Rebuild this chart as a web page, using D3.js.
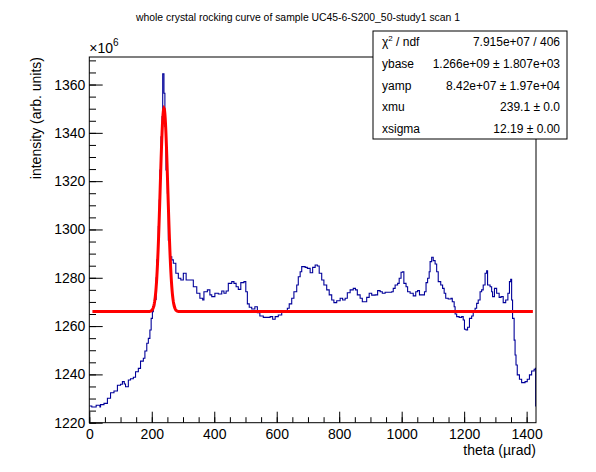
<!DOCTYPE html>
<html><head><meta charset="utf-8">
<script src="https://cdn.jsdelivr.net/npm/d3@7"></script>
<style>
body{margin:0;background:#fff}
text{font-family:"Liberation Sans",Arial,Helvetica,sans-serif;fill:#000}
</style>
</head><body>
<svg id="c" width="596" height="472"></svg>
<script>
// ---- data (intensity in units of 1e6, theta in µrad) ----
const theta = [0,8,15,22,28,34,36,47,58,68,79,90,100,106,112,116,125,132,141,148,157,164,173,178,184,189,194,198,202,205,209,214,216,221,224,226,229.5,233,235,239,242,245.5,250,253,258,264,269,277,285,293,301,310,322,333,344,354,363,367,378,386,392,402,413,424,431,438,445,456,463,470,477,485,495,501,506,512,520,530,538,546,557,568,579,587,595,605,616,627,634,640,648,655,664,669,675,680,691,698,707,715,723,730,736,744,751,760,768,776,783,792,803,811,819,826,835,845,852,858,867,874,880,888,896,904,915,923,931,938,947,957,968,973,979,987,992,998,1003,1007,1014,1019,1027,1037,1045,1051,1057,1064,1073,1078,1083,1088,1091,1096,1101,1107,1112,1117,1125,1131,1136,1141,1149,1158,1162,1168,1171,1176,1184,1192,1197,1201,1206,1211,1217,1224,1229,1235,1240,1245,1251,1256,1261,1267,1272,1275,1283,1288,1291,1297,1304,1312,1318,1325,1333,1340,1345,1349,1352,1355,1360,1363,1366,1370,1377,1384,1395,1402,1409,1416,1424,1428,1429];
const intensity = [1226.9,1226.5,1226.5,1227.2,1227.2,1226.5,1227.5,1228.0,1230.1,1232.4,1233.1,1235.5,1235.9,1237.0,1236.0,1234.9,1237.7,1238.2,1238.8,1241.1,1242.5,1245.5,1246.7,1249.7,1252.9,1254.9,1258.4,1263.2,1266.0,1268.3,1271.0,1280.0,1287.4,1301.2,1312.2,1324.6,1338.4,1346.7,1364.4,1356.4,1342.6,1324.6,1315.0,1295.6,1288.7,1287.4,1286.0,1281.9,1279.8,1279.1,1281.9,1279.1,1279.1,1276.3,1273.6,1271.5,1270.8,1274.2,1275.0,1272.9,1272.2,1273.6,1273.3,1274.5,1273.6,1274.5,1277.7,1278.4,1277.7,1276.3,1275.2,1278.0,1278.4,1274.2,1269.2,1267.8,1267.1,1268.0,1265.5,1264.2,1263.6,1263.6,1263.9,1262.8,1263.9,1264.6,1266.0,1266.0,1267.4,1269.2,1271.5,1274.2,1277.0,1280.4,1282.5,1284.6,1284.3,1283.9,1282.1,1284.3,1285.3,1284.9,1281.9,1279.1,1277.0,1275.0,1272.9,1270.8,1269.7,1270.5,1271.5,1270.8,1271.5,1273.8,1275.0,1275.6,1275.0,1272.9,1271.5,1270.1,1270.1,1271.9,1273.6,1272.8,1272.9,1274.7,1274.2,1273.6,1274.0,1274.0,1274.2,1275.6,1277.0,1277.7,1279.8,1282.3,1282.5,1277.7,1276.3,1274.2,1273.6,1272.5,1274.2,1274.7,1272.9,1272.9,1274.2,1278.0,1279.8,1282.5,1286.7,1288.5,1287.1,1285.7,1282.5,1278.4,1277.0,1275.6,1273.6,1271.5,1271.2,1271.5,1270.1,1268.0,1265.0,1263.9,1263.6,1263.9,1262.5,1258.7,1258.4,1259.5,1263.2,1264.2,1266.0,1267.4,1269.4,1270.8,1274.2,1275.0,1277.0,1281.9,1282.9,1277.0,1276.3,1274.2,1272.2,1275.6,1273.6,1271.9,1272.2,1269.7,1270.8,1273.6,1278.4,1279.4,1270.8,1263.2,1254.2,1248.0,1243.9,1239.8,1238.0,1236.6,1237.0,1238.0,1239.8,1241.4,1242.1,1242.5,1226.9];
const thetaMax = 1430;

// fit result (gaussian + constant), values as shown in the stats box
const fitNames  = ["ybase","yamp","xmu","xsigma"];
const fitValues = [1266.0, 84.2, 239.1, 12.19];   // ybase, yamp in 1e6
const fitRange  = [10, 1420];

const statLabels = ["χ2 / ndf","ybase","yamp","xmu","xsigma"];
const statTexts  = ["7.915e+07 / 406","1.266e+09 ± 1.807e+03","8.42e+07 ± 1.97e+04","239.1 ± 0.0","12.19 ± 0.00"];

const xTicks = [0,200,400,600,800,1000,1200,1400];
const yTicks = [1220,1240,1260,1280,1300,1320,1340,1360];

const titleText = "whole crystal rocking curve of sample UC45-6-S200_50-study1 scan 1";
const xTitle = "theta (µrad)";
const yTitle = "intensity (arb. units)";

// ---- layout ----
const L = 89.3, R = 536, T = 57, B = 422.7;
const svg = d3.select("#c");
svg.append("rect").attr("width",596).attr("height",472).attr("fill","#fff");

const x = d3.scaleLinear().domain([0, thetaMax]).range([L, R]);
const y = d3.scaleLinear().domain([1220, 1371.4]).range([B, T]);

svg.append("defs").append("clipPath").attr("id","clip")
  .append("rect").attr("x",L).attr("y",T).attr("width",R-L).attr("height",B-T);

// histogram
const pts = theta.map((t,i)=>[t,intensity[i]]);
pts.push([thetaMax, intensity[intensity.length-1]]);
const line = d3.line().x(d=>x(d[0])).y(d=>y(d[1]));
svg.append("path").attr("clip-path","url(#clip)")
  .attr("d", line.curve(d3.curveStepAfter)(pts))
  .attr("fill","none").attr("stroke","#000099").attr("stroke-width",1.1);

// fit curve
const [yb, ya, mu, sg] = fitValues;
const fitPts = d3.range(fitRange[0], fitRange[1]+0.01, 1).map(t=>[t, yb + ya*Math.exp(-0.5*((t-mu)/sg)**2)]);
svg.append("path").attr("clip-path","url(#clip)")
  .attr("d", d3.line().x(d=>x(d[0])).y(d=>y(d[1]))(fitPts))
  .attr("fill","none").attr("stroke","#ff0000").attr("stroke-width",3);

// frame
svg.append("rect").attr("x",L).attr("y",T).attr("width",R-L).attr("height",B-T)
  .attr("fill","none").attr("stroke","#000").attr("stroke-width",1);

// axes
const fs = 14;
const xMinor = d3.range(0, thetaMax, 50);
const yMinor = d3.range(1220, 1371, 5);
const gx = svg.append("g").attr("transform",`translate(0,${B})`);
gx.call(d3.axisBottom(x).tickValues(xMinor).tickSize(-5.5).tickFormat(""));
gx.call(g=>g.select(".domain").remove());
const gx2 = svg.append("g").attr("transform",`translate(0,${B})`);
gx2.call(d3.axisBottom(x).tickValues(xTicks).tickSize(-11).tickPadding(6).tickFormat(d3.format("d")));
gx2.select(".domain").remove();
gx2.selectAll("text").attr("font-size",fs).style("font-family","Liberation Sans, Arial, sans-serif");

const gy = svg.append("g").attr("transform",`translate(${L},0)`);
gy.call(d3.axisLeft(y).tickValues(yMinor).tickSize(-6.7).tickFormat(""));
gy.select(".domain").remove();
const gy2 = svg.append("g").attr("transform",`translate(${L},0)`);
gy2.call(d3.axisLeft(y).tickValues(yTicks).tickSize(-13.4).tickPadding(4).tickFormat(d3.format("d")));
gy2.select(".domain").remove();
gy2.selectAll("text").attr("font-size",fs).style("font-family","Liberation Sans, Arial, sans-serif");
svg.selectAll(".tick line").attr("stroke","#000");

// exponent
const ex = svg.append("text").attr("x",L).attr("y",53).attr("font-size",fs);
ex.append("tspan").text("×10");
ex.append("tspan").attr("font-size",10).attr("dy",-7).text("6");

// axis titles
svg.append("text").attr("x",R).attr("y",455).attr("text-anchor","end").attr("font-size",fs).text(xTitle);
svg.append("text").attr("transform",`translate(41,${T}) rotate(-90)`).attr("text-anchor","end")
  .attr("font-size",fs).text(yTitle);

// title
svg.append("text").attr("x",298).attr("y",21).attr("text-anchor","middle").attr("font-size",10.4).text(titleText);

// stats box
const bx = 373, by = 31, bw = 194, bh = 108;
svg.append("rect").attr("x",bx).attr("y",by).attr("width",bw).attr("height",bh)
  .attr("fill","#fff").attr("stroke","#000").attr("stroke-width",1);
statLabels.forEach((lab,i)=>{
  const cy = by + bh*(i+0.5)/5 + 4.5;
  const t = svg.append("text").attr("x",bx+9).attr("y",cy).attr("font-size",12);
  if (i===0){
    t.append("tspan").text("χ");
    t.append("tspan").attr("font-size",8).attr("dy",-5).text("2");
    t.append("tspan").attr("dy",5).text(" / ndf");
  } else t.text(lab);
  svg.append("text").attr("x",bx+bw-7).attr("y",cy).attr("text-anchor","end").attr("font-size",12).text(statTexts[i]);
});
</script>
</body></html>
